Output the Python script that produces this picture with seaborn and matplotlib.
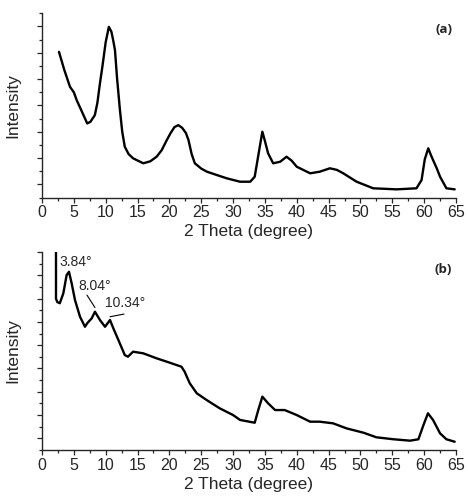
import matplotlib
matplotlib.use("Agg")
import matplotlib.pyplot as plt
import numpy as np
import pandas as pd
import seaborn as sns
from matplotlib.ticker import MultipleLocator

# ------------------------------ data

# (a) pattern
theta_a = [2.67, 3.5, 4.4, 5.0, 5.45, 6.2, 6.75, 7.1, 7.6, 8.3, 8.7, 9.1, 9.5,
           10.0, 10.5, 10.9, 11.2, 11.46, 11.8, 12.24, 12.6, 13.0, 13.6, 14.3,
           15.9, 17.0, 18.0, 18.8, 19.6, 20.2, 20.8, 21.4, 22.0, 22.6, 23.0,
           23.5, 24.0, 25.0, 25.9, 27.5, 29.0, 31.1, 32.7, 33.4, 34.0, 34.6,
           35.0, 35.5, 36.3, 37.4, 38.4, 39.2, 40.0, 42.1, 43.6, 45.2, 46.3,
           47.3, 49.4, 52.0, 55.7, 58.8, 59.6, 60.1, 60.65, 61.0, 61.4, 62.0,
           62.5, 63.5, 64.8]
intensity_a = [11.07, 9.7, 8.41, 8.0, 7.40, 6.6, 6.01, 5.63, 5.75, 6.26, 7.2,
               8.67, 10.0, 11.8, 12.97, 12.6, 11.9, 11.20, 9.0, 6.64, 5.0, 3.86,
               3.3, 2.98, 2.60, 2.75, 3.10, 3.6, 4.37, 4.9, 5.35, 5.50, 5.3,
               4.9, 4.37, 3.3, 2.60, 2.2, 1.96, 1.70, 1.46, 1.20, 1.20, 1.58,
               3.3, 5.00, 4.3, 3.36, 2.60, 2.72, 3.10, 2.8, 2.34, 1.84, 1.96,
               2.22, 2.1, 1.84, 1.20, 0.70, 0.62, 0.70, 1.33, 2.9, 3.74, 3.3,
               2.85, 2.2, 1.58, 0.70, 0.62]

# (b) pattern
theta_b = [2.2, 2.2, 2.4, 2.8, 3.35, 3.87, 4.24, 4.66, 5.18, 5.97, 6.75, 7.1,
           7.8, 8.32, 9.1, 9.9, 10.68, 11.2, 12.0, 13.0, 13.5, 14.3, 15.9, 18.0,
           19.6, 21.1, 21.9, 22.4, 23.2, 24.3, 25.85, 27.9, 30.0, 31.1, 33.4,
           33.96, 34.6, 35.5, 36.6, 38.1, 40.0, 42.1, 43.6, 45.7, 47.8, 50.5,
           52.5, 55.2, 57.8, 59.1, 59.9, 60.6, 61.4, 62.5, 63.5, 64.8]
intensity_b = [18.0, 13.0, 12.7, 12.6, 13.45, 15.02, 15.30, 14.31, 12.88, 11.44,
               10.58, 10.88, 11.30, 11.87, 11.16, 10.58, 11.16, 10.45, 9.44,
               8.15, 8.01, 8.44, 8.30, 7.87, 7.58, 7.30, 7.15, 6.72, 5.73, 4.87,
               4.29, 3.58, 3.00, 2.58, 2.34, 3.43, 4.58, 4.01, 3.43, 3.43, 3.00,
               2.43, 2.43, 2.29, 1.86, 1.48, 1.09, 0.92, 0.80, 0.92, 2.15, 3.15,
               2.58, 1.43, 0.92, 0.71]

peak_labels = ["3.84°", "8.04°", "10.34°"]

X_TICKS = list(range(0, 70, 5))

# ------------------------------ style

sns.set_style("ticks")
plt.rcParams["font.family"] = ["Liberation Sans", "DejaVu Sans"]
plt.rcParams.update({
    "axes.linewidth": 1.0,
    "xtick.major.size": 3.5,
    "xtick.minor.size": 2.0,
    "ytick.major.size": 3.5,
    "ytick.minor.size": 2.0,
    "xtick.major.width": 0.9,
    "xtick.minor.width": 0.9,
    "ytick.major.width": 0.9,
    "ytick.minor.width": 0.9,
    "xtick.labelsize": 11.5,
})

DPI = 100
FIGSIZE = (468 / DPI, 498 / DPI)

fig = plt.figure(figsize=FIGSIZE, dpi=DPI)
ax_a = fig.add_axes([0.0897, 0.6034, 0.8846, 0.3699])
ax_b = fig.add_axes([0.0897, 0.0964, 0.8846, 0.3976])

df_a = pd.DataFrame({"theta": theta_a, "intensity": intensity_a})
df_b = pd.DataFrame({"theta": theta_b, "intensity": intensity_b})


def style_axis(ax, ymax, tag):
    ax.set_xlim(0, 65)
    ax.set_ylim(0, ymax)
    ax.set_xticks(X_TICKS)
    ax.xaxis.set_minor_locator(MultipleLocator(2.5))
    # long ticks on odd values, short on even ones, no labels
    ax.yaxis.set_major_locator(MultipleLocator(2, offset=1))
    ax.yaxis.set_minor_locator(MultipleLocator(2))
    ax.tick_params(axis="y", which="both", labelleft=False)
    ax.tick_params(axis="x", which="major", pad=2)
    sns.despine(ax=ax)
    ax.set_xlabel("2 Theta (degree)", fontsize=12.5, labelpad=3)
    ax.set_ylabel("Intensity", fontsize=12.5, labelpad=12)
    ax.text(0.97, 0.91, tag, transform=ax.transAxes, ha="center", va="center",
            fontsize=9.5, fontweight="bold", family=["Open Sans", "DejaVu Sans"])


sns.lineplot(data=df_a, x="theta", y="intensity", ax=ax_a, color="black",
             linewidth=1.7, sort=False, estimator=None)
style_axis(ax_a, 14, "(a)")

sns.lineplot(data=df_b, x="theta", y="intensity", ax=ax_b, color="black",
             linewidth=1.7, sort=False, estimator=None)
style_axis(ax_b, 17, "(b)")

# peak labels and leader lines in (b)
ax_b.text(2.67, 16.14, peak_labels[0], fontsize=10, va="center", ha="left")
ax_b.text(5.65, 14.08, peak_labels[1], fontsize=10, va="center", ha="left")
ax_b.text(9.9, 12.62, peak_labels[2], fontsize=10, va="center", ha="left")
ax_b.annotate("", xy=(8.32, 12.23), xytext=(7.06, 13.30),
              arrowprops=dict(arrowstyle="-", lw=0.8, color="black",
                              shrinkA=0, shrinkB=0))
ax_b.annotate("", xy=(12.88, 11.67), xytext=(10.68, 11.44),
              arrowprops=dict(arrowstyle="-", lw=0.8, color="black",
                              shrinkA=0, shrinkB=0))

plt.savefig("out.png", dpi=DPI)
plt.close()
